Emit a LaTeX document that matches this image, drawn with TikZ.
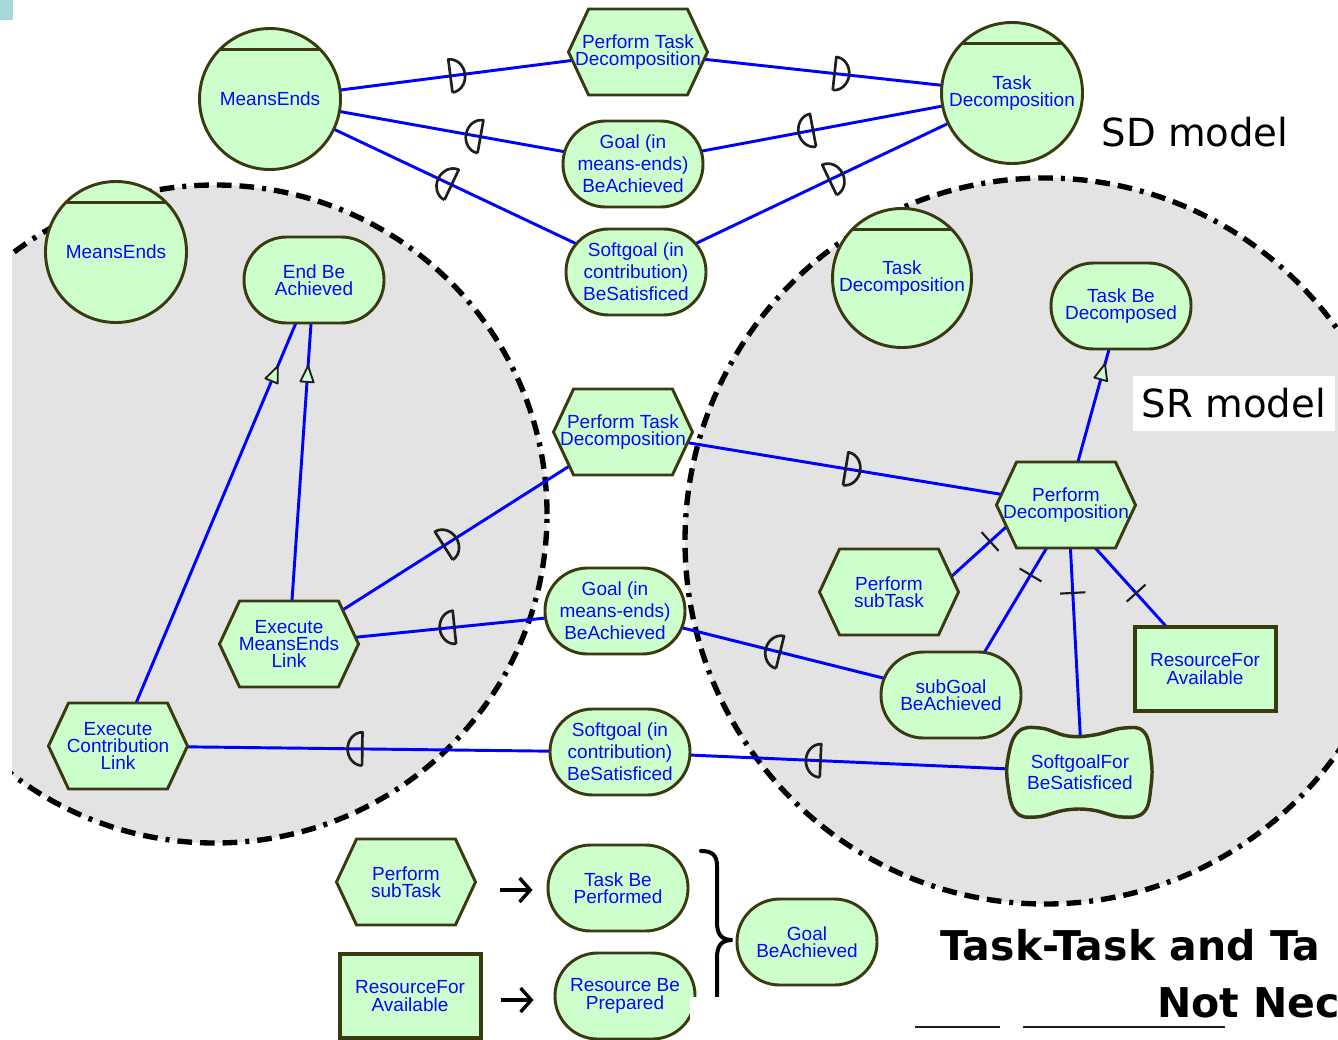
\documentclass[tikz,border=0pt]{standalone}
\usepackage{fontspec}
\setmainfont{Liberation Sans}
\newfontfamily\modelfont{DejaVu Sans}
\newfontfamily\headfont{DejaVu Sans Bold}
\usetikzlibrary{shapes.symbols,decorations.markings,arrows.meta,calc}

\definecolor{nodefill}{HTML}{CCFFCC}
\definecolor{nodeline}{HTML}{3A3A10}
\definecolor{linkblue}{HTML}{0000FF}
\definecolor{labelblue}{HTML}{0808F2}
\definecolor{regiongray}{HTML}{E3E3E3}
\definecolor{cornerteal}{HTML}{A8D8DA}
\definecolor{symink}{HTML}{1E1E1E}

\pgfdeclarelayer{regions}
\pgfdeclarelayer{links}
\pgfsetlayers{regions,links,main}

\tikzset{
  elemline/.style={draw=nodeline, line width=2.2pt, fill=nodefill},
  elem/.style={elemline, text=labelblue, align=center, inner sep=0pt,
    font=\fontsize{14.25}{12.9}\selectfont},
  roomy/.style={font=\fontsize{14.25}{16.5}\selectfont},
  actor/.style={elem, circle, minimum size=105.75pt,
    path picture={\draw[nodeline, line width=2pt]
      ([yshift=-15.75pt]path picture bounding box.north west) --
      ([yshift=-15.75pt]path picture bounding box.north east);}},
  goalbox/.style={elem, rectangle, rounded corners=32pt,
    minimum width=105pt, minimum height=64.5pt},
  taskbox/.style={elem, signal, signal to=east and west,
    signal pointer angle=130, inner xsep=-30pt,
    minimum width=104.25pt, minimum height=64.5pt},
  resbox/.style={elem, rectangle, line width=3pt,
    minimum width=105.75pt, minimum height=63pt},
  srregion/.style={fill=regiongray, draw=black, line width=4pt,
    dash pattern=on 11pt off 6pt on 11pt off 6pt on 11pt off 6pt on 3pt off 6pt},
  modeltext/.style={font=\modelfont\fontsize{29}{30}\selectfont,
    text=black, inner sep=0pt},
  link/.style={draw=linkblue, line width=2.2pt},
  dsym/.style={draw=symink, line width=2pt, solid, fill=none, line join=round},
  depto/.style={postaction={decorate, decoration={markings,
    mark=at position #1 with {\draw[dsym] (-5.5pt,-12.5pt) -- (-5.5pt,12.5pt)
      arc[start angle=90, end angle=-90, x radius=11pt, y radius=12.5pt];}}}},
  depfrom/.style={postaction={decorate, decoration={markings,
    mark=at position #1 with {\draw[dsym] (5.5pt,-12.5pt) -- (5.5pt,12.5pt)
      arc[start angle=90, end angle=270, x radius=11pt, y radius=12.5pt];}}}},
  decomp/.style={postaction={decorate, decoration={markings,
    mark=at position #1 with {\draw[symink, line width=1.6pt, solid]
      (0pt,-9.5pt) -- (0pt,9.5pt);}}}},
  meansend/.style={postaction={decorate, decoration={markings,
    mark=at position #1 with {\draw[symink, line width=1.4pt, solid,
      fill=nodefill, line join=round]
      (0pt,0pt) -- (-12pt,-5pt) -- (-12pt,5pt) -- cycle;}}}},
  larrow/.style={draw=black, line width=2.6pt,
    -{Straight Barb[length=8pt, width=18pt]}},
  brace/.style={draw=black, line width=3pt, line cap=round}
}

\begin{document}
\begin{tikzpicture}[x=0.75pt, y=-0.75pt]
\useasboundingbox (0,0) rectangle (1338,1039);

\fill[cornerteal] (0,0) rectangle (13,20);

% strategic rationale boundaries
\begin{pgfonlayer}{regions}
  \begin{scope}
    \clip (12,0) rectangle (1338,1039);
    \path[srregion] (215,514) ellipse [x radius=249pt, y radius=246.75pt];
  \end{scope}
  \path[srregion] (1045,541) ellipse [x radius=270pt, y radius=272.25pt];
\end{pgfonlayer}

% SD model
\node[actor] (me1) at (270,99) {MeansEnds};
\node[taskbox] (ptd1) at (638,52) {Perform Task\\Decomposition};
\node[goalbox, roomy] (goal1) at (633,164) {Goal (in\\means-ends)\\BeAchieved};
\node[goalbox, roomy] (soft1) at (636,272) {Softgoal (in\\contribution)\\BeSatisficed};
\node[actor] (td1) at (1012,93) {Task\\Decomposition};
\node[modeltext] (sdtag) at (1195,132) {SD model};

% left SR boundary
\node[actor] (me2) at (116,252) {MeansEnds};
\node[goalbox] (eba) at (314,280) {End Be\\Achieved};
\node[taskbox] (eml) at (289,644) {Execute\\MeansEnds\\Link};
\node[taskbox] (ecl) at (118,746) {Execute\\Contribution\\Link};

% dependums between the boundaries
\node[taskbox] (ptd2) at (623,432) {Perform Task\\Decomposition};
\node[goalbox, roomy] (goal2) at (615,611) {Goal (in\\means-ends)\\BeAchieved};
\node[goalbox, roomy] (soft2) at (620,752) {Softgoal (in\\contribution)\\BeSatisficed};

% right SR boundary
\node[actor, minimum size=104.25pt] (td2) at (902,278) {Task\\Decomposition};
\node[goalbox] (tbd) at (1121,306) {Task Be\\Decomposed};
\node[taskbox] (pd) at (1066,505) {Perform\\Decomposition};
\node[taskbox] (pst) at (889,592) {Perform\\subTask};
\node[goalbox] (sg) at (951,695) {subGoal\\BeAchieved};
\path[elemline, line width=2.6pt, shift={(1080,772)}]
  plot[smooth cycle, tension=0.7] coordinates {(-62,-40) (-40,-44) (-12,-36)
  (14,-37) (44,-44) (64,-40) (71,-14) (71,14) (64,40) (42,45) (12,38)
  (-14,38) (-44,45) (-64,40) (-72,14) (-72,-14)};
\node[elem, draw=none, fill=none, minimum width=105pt, minimum height=64pt,
  font=\fontsize{14.25}{15.75}\selectfont] (sf) at (1080,772) {SoftgoalFor\\BeSatisficed};
\node[resbox] (res) at (1205,669) {ResourceFor\\Available};
\node[modeltext, fill=white, minimum width=151.5pt, minimum height=41.25pt]
  (srtag) at (1234,403.5) {SR model};

% legend
\node[taskbox] (pstl) at (406,882) {Perform\\subTask};
\node[goalbox] (tbp) at (618,888) {Task Be\\Performed};
\node[resbox] (resl) at (410,996) {ResourceFor\\Available};
\node[goalbox] (rbp) at (625,996) {Resource Be\\Prepared};
\node[goalbox] (gba) at (807,942) {Goal\\BeAchieved};
\draw[larrow] ($(pstl.east)+(23,8)$) -- ($(tbp.west)+(-14,2)$);
\draw[larrow] ($(resl.east)+(18,4)$) -- ($(rbp.west)+(-20,4)$);
\draw[brace] (701,851) .. controls (712,851) and (717,855) .. (717,866)
  -- (717,922) .. controls (717,934) and (721,940) .. ($(gba.west)+(-3,-2)$)
  .. controls (721,940) and (717,946) .. (717,958) -- (717,997);
\fill[white] (690,997) rectangle (760,1040);

% heading
\node[anchor=base west, inner sep=0pt, font=\headfont\fontsize{30.75}{31}\selectfont]
  (head1) at (940,960) {Task-Task and Ta};
\node[anchor=base west, inner sep=0pt, font=\headfont\fontsize{30.75}{31}\selectfont]
  (head2) at (1157,1017) {Not Nec};
\draw[symink, line width=1.2pt] (915,1027) -- (1000,1027) (1023,1027) -- (1225,1027);

% links
\begin{pgfonlayer}{links}
  \draw[link, depto=0.51] (me1.center) -- (ptd1.center);
  \draw[link, depto=0.545] (ptd1.center) -- (td1.center);
  \draw[link, depfrom=0.56] (me1.center) -- (goal1.center);
  \draw[link, depfrom=0.456] (goal1.center) -- (td1.center);
  \draw[link, depfrom=0.478] (me1.center) -- (soft1.center);
  \draw[link, depto=0.532] (soft1.center) -- (td1.center);

  \draw[link, depto=0.482] (eml.center) -- (ptd2.center);
  \draw[link, depto=0.519] (ptd2.center) -- (pd.center);
  \draw[link, depfrom=0.485] (eml.center) -- (goal2.center);
  \draw[link, depfrom=0.47] (goal2.center) -- (sg.center);
  \draw[link, depfrom=0.472] (ecl.center) -- (soft2.center);
  \draw[link, depfrom=0.42] (soft2.center) -- (sf.center);

  \draw[link, meansend=0.815] (ecl.center) -- (eba.center);
  \draw[link, meansend=0.764] (eml.center) -- (eba.center);
  \draw[link, meansend=0.709] (pd.center) -- (tbd.center);

  \draw[link, decomp=0.65] ($(pst.center)+(53,-7)$) -- ($(pd.center)+(-50,13)$);
  \draw[link, decomp=0.71] ($(sg.center)+(27,-32)$) -- ($(pd.center)+(-14,34)$);
  \draw[link, decomp=0.748] ($(sf.center)+(1,-22)$) -- ($(pd.center)+(4,35)$);
  \draw[link, decomp=0.44] ($(res.center)+(-32,-35)$) -- ($(pd.center)+(23,36)$);
\end{pgfonlayer}
\end{tikzpicture}
\end{document}
